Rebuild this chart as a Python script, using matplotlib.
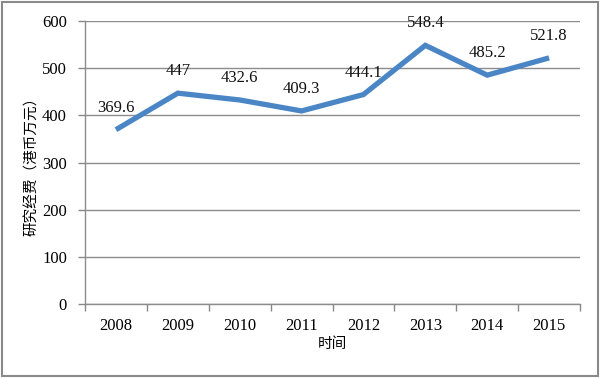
import matplotlib
matplotlib.use('Agg')
import matplotlib.pyplot as plt
from matplotlib.patches import Rectangle

# data
years = ['2008', '2009', '2010', '2011', '2012', '2013', '2014', '2015']
funds = [369.6, 447, 432.6, 409.3, 444.1, 548.4, 485.2, 521.8]
labels = ['369.6', '447', '432.6', '409.3', '444.1', '548.4', '485.2', '521.8']

serif = ['Liberation Serif', 'DejaVu Serif']
cjk = ['Noto Sans CJK SC', 'DejaVu Sans']

fig = plt.figure(figsize=(6, 3.78), dpi=100)
ax = fig.add_axes([0.1417, 0.1958, 0.825, 0.7486])

x = list(range(len(years)))
ax.plot(x, funds, color='#4a86c6', linewidth=3.8, solid_capstyle='butt', solid_joinstyle='miter', zorder=3)
for xi, v, t in zip(x, funds, labels):
    ax.annotate(t, (xi, v), xytext=(0, 10), textcoords='offset points',
                ha='center', va='bottom', fontsize=12, family=serif, color='#111111')

ax.set_xlim(-0.5, len(years) - 0.5)
ax.set_ylim(0, 600)
ax.set_yticks(range(0, 601, 100))
ax.set_xticks(x)
ax.set_xticklabels(years, family=serif, fontsize=12)
for t in ax.get_yticklabels():
    t.set_family(serif)
    t.set_fontsize(12)
ax.set_xticks([i - 0.5 for i in range(len(years) + 1)], minor=True)
ax.tick_params(axis='x', which='major', length=0, pad=10)
ax.tick_params(axis='x', which='minor', length=5, color='#888888', width=1)
ax.tick_params(axis='y', length=5, color='#888888', width=1, pad=8)

ax.yaxis.grid(True, color='#8c8c8c', linewidth=1)
ax.set_axisbelow(True)
for s in ['top', 'right']:
    ax.spines[s].set_visible(False)
for s in ['left', 'bottom']:
    ax.spines[s].set_color('#8c8c8c')
    ax.spines[s].set_linewidth(1)

ax.set_xlabel('时间', family=cjk, fontsize=10.5, labelpad=2)
ax.set_ylabel('研究经费（港币万元）', family=cjk, fontsize=10.5, labelpad=2)

fig.patches.append(Rectangle((0.003, 0.004), 0.994, 0.992, transform=fig.transFigure,
                             fill=False, edgecolor='#8a8a8a', linewidth=1.5))

fig.savefig('out.png', dpi=100)
